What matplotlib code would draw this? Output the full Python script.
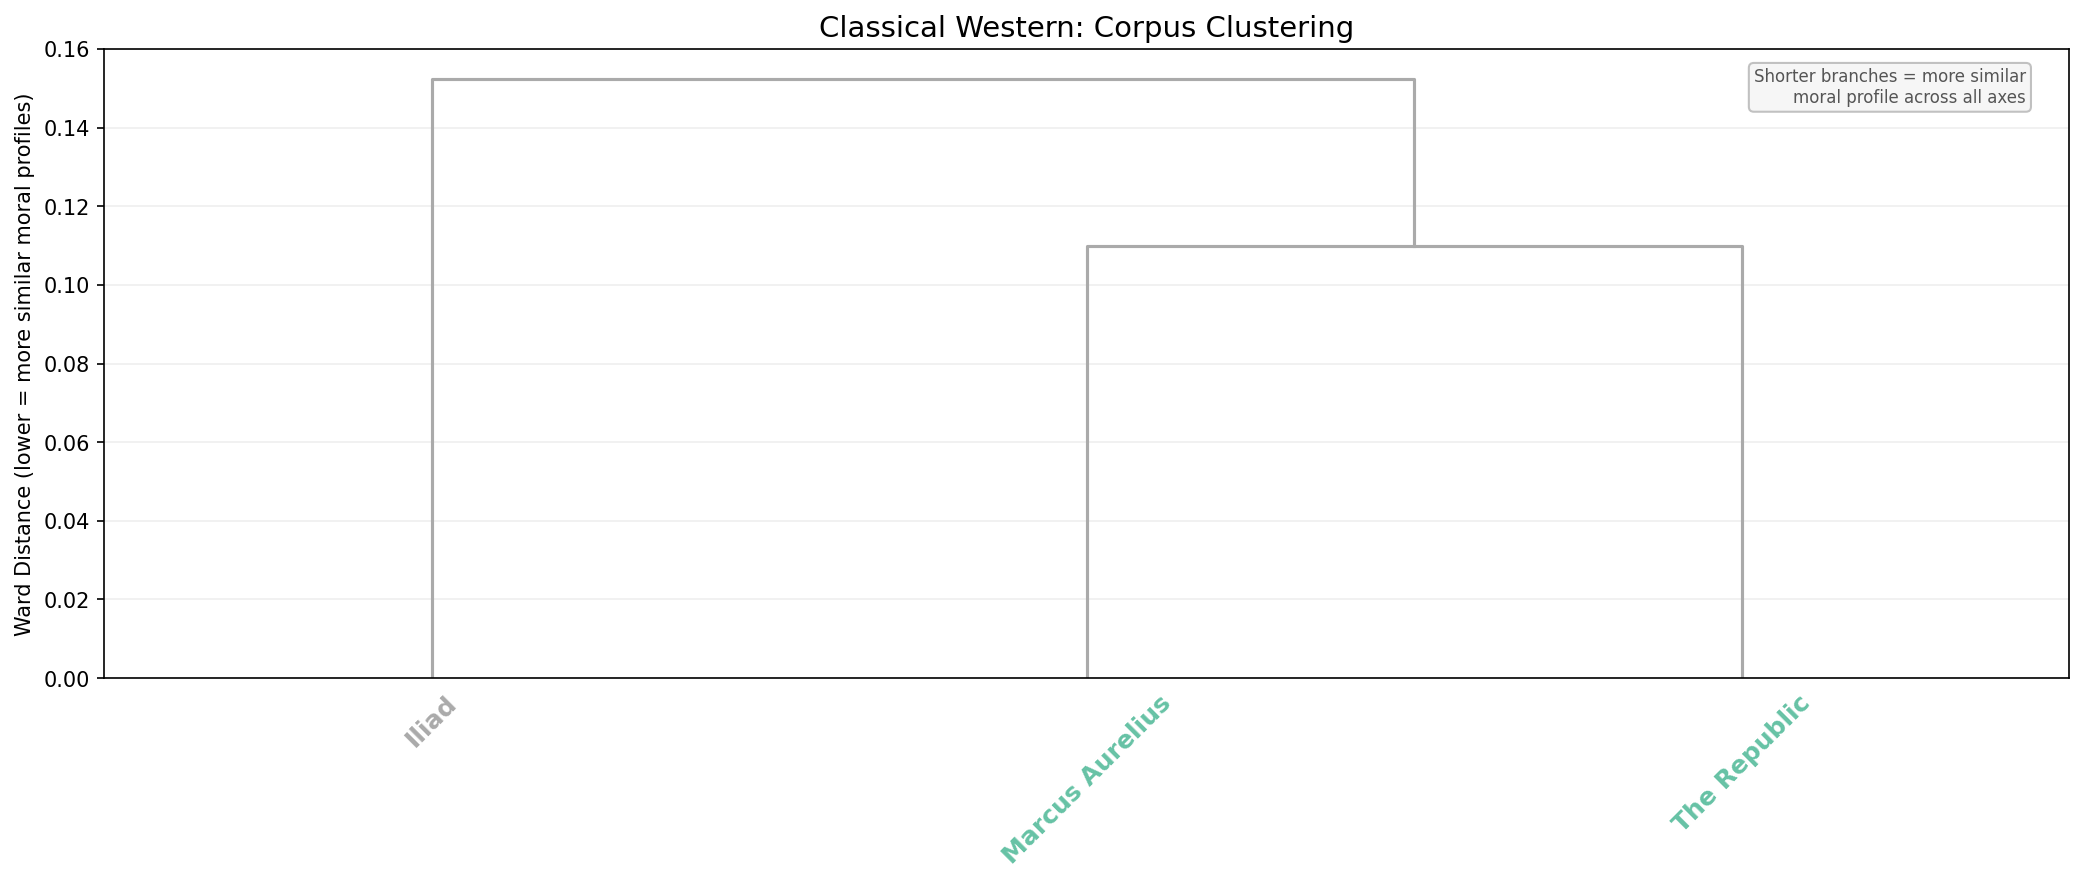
import matplotlib
matplotlib.use("Agg")
import matplotlib.pyplot as plt

# leaves in dendrogram order and merge heights (Ward distance)
leaves = ["Iliad", "Marcus Aurelius", "The Republic"]
leaf_colors = ["#aaaaaa", "#66c2a5", "#66c2a5"]
merge_inner = 0.1098   # Marcus Aurelius + The Republic
merge_outer = 0.1525   # Iliad + (Marcus, Republic)
link_color = "#aaaaaa"

xpos = [5 + 10 * i for i in range(len(leaves))]

fig, ax = plt.subplots(figsize=(14, 6))

# inner U: Marcus Aurelius and The Republic
ax.plot([xpos[1], xpos[1], xpos[2], xpos[2]], [0, merge_inner, merge_inner, 0],
        color=link_color, lw=1.5)
mid = (xpos[1] + xpos[2]) / 2
# outer U: Iliad and the inner cluster
ax.plot([xpos[0], xpos[0], mid, mid], [0, merge_outer, merge_outer, merge_inner],
        color=link_color, lw=1.5)

ax.set_xlim(0, 30)
ax.set_ylim(0, 0.16)
ax.set_xticks(xpos)
ax.set_xticklabels(leaves, rotation=45, fontsize=12, fontweight="bold")
for t, c in zip(ax.get_xticklabels(), leaf_colors):
    t.set_color(c)
ax.tick_params(axis="x", length=0, pad=6)
ax.yaxis.grid(True, alpha=0.2)
ax.set_axisbelow(True)

ax.set_ylabel("Ward Distance (lower = more similar moral profiles)", fontsize=10)
ax.set_title("Classical Western: Corpus Clustering", fontsize=14)

ax.text(0.978, 0.97, "Shorter branches = more similar\nmoral profile across all axes",
        transform=ax.transAxes, ha="right", va="top", fontsize=8, color="#555555",
        multialignment="right",
        bbox=dict(boxstyle="round,pad=0.3", facecolor="#f5f5f5", edgecolor="#bbbbbb", alpha=0.9))

plt.tight_layout()
plt.savefig("out.png", dpi=150, bbox_inches="tight")
